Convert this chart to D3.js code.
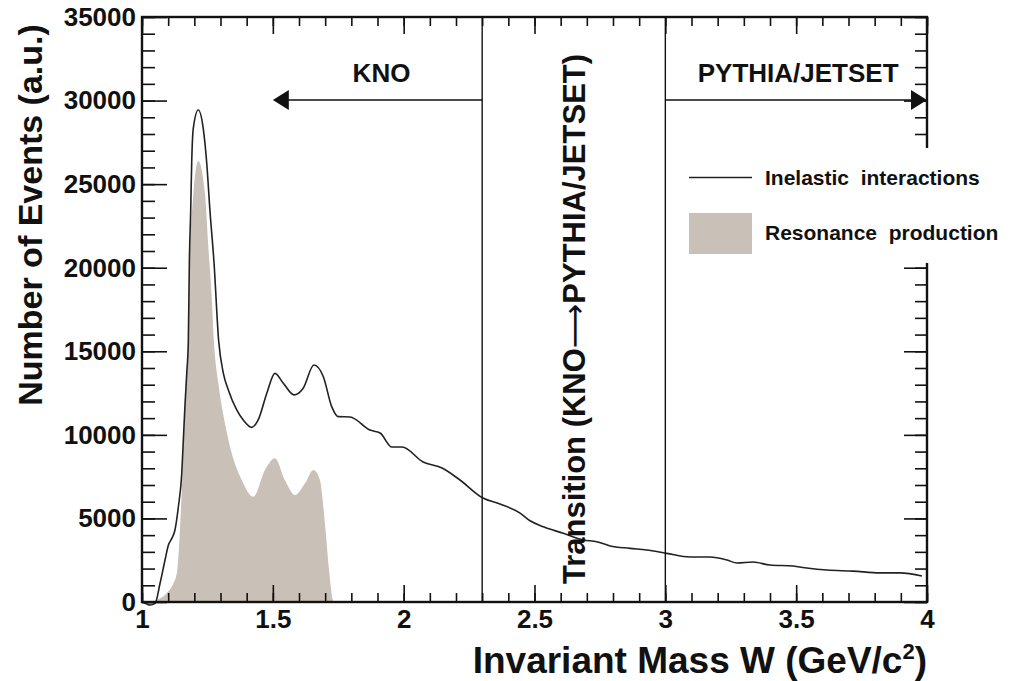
<html>
<head>
    <script src="https://d3js.org/d3.v7.min.js"></script>
    <style>
        body { margin: 0; background: #fff; }
        text { font-family: "Liberation Sans", Arial, sans-serif; fill: #111; }
    </style>
</head>
<body>
<svg id="chart" width="1017" height="681"></svg>
<script>

// ---- data ----
const xTicks = [1, 1.5, 2, 2.5, 3, 3.5, 4];
const xTickLabels = ["1", "1.5", "2", "2.5", "3", "3.5", "4"];
const yTicks = [0, 5000, 10000, 15000, 20000, 25000, 30000, 35000];
const yTickLabels = ["0", "5000", "10000", "15000", "20000", "25000", "30000", "35000"];

// inelastic interactions (black line)
const inelMass = [1.004, 1.031, 1.050, 1.069, 1.088, 1.101, 1.114, 1.126, 1.139, 1.152, 1.158, 1.164, 1.171,
    1.177, 1.181, 1.186, 1.190, 1.196, 1.215, 1.234, 1.247, 1.260, 1.275, 1.293, 1.311, 1.330, 1.362, 1.387,
    1.419, 1.444, 1.477, 1.508, 1.540, 1.581, 1.616, 1.657, 1.693, 1.725, 1.750, 1.795, 1.871, 1.910, 1.955,
    1.994, 2.074, 2.147, 2.215, 2.303, 2.368, 2.445, 2.483, 2.534, 2.610, 2.686, 2.738, 2.789, 2.865, 2.929,
    3.005, 3.094, 3.171, 3.236, 3.274, 3.335, 3.400, 3.488, 3.541, 3.618, 3.717, 3.820, 3.897, 3.981];
const inelEvents = [0, -180, -80, 1120, 2510, 3410, 3810, 4310, 5700, 7700, 9690, 11690, 13680,
    15570, 20360, 23350, 26340, 28340, 29440, 28340, 26340, 23350, 20360, 15620, 13680, 12680, 11490, 10890,
    10450, 10890, 12490, 13680, 13090, 12390, 12790, 14180, 13480, 11690, 11090, 11070, 10290, 10110, 9270,
    9270, 8380, 8020, 7300, 6220, 5860, 5320, 4860, 4500, 4110, 3710, 3610, 3350, 3210, 3110,
    2910, 2690, 2690, 2510, 2330, 2390, 2210, 2150, 2030, 1910, 1850, 1740, 1740, 1560];

// resonance production (filled)
const resMass = [1.038, 1.056, 1.094, 1.120, 1.133, 1.143, 1.152, 1.162, 1.171, 1.177, 1.183, 1.196, 1.215,
    1.241, 1.253, 1.266, 1.275, 1.292, 1.317, 1.343, 1.381, 1.425, 1.470, 1.508, 1.546, 1.585, 1.623, 1.655,
    1.680, 1.699, 1.716, 1.729, 1.734];
const resEvents = [0, 120, 520, 1120, 1720, 3710, 6700, 10690, 13680, 15570, 20360, 24350, 26390,
    24350, 21360, 18370, 15570, 13080, 10690, 8900, 7300, 6300, 7900, 8600, 7300, 6400, 7100, 7900,
    7300, 4710, 1720, 120, 0];

const boundaries = [2.3, 3.0];
const legendKeys = ["Inelastic  interactions", "Resonance  production"];
const resColor = "#c9c0b7";

let svg = d3.select("svg#chart");
const margin = { top: 17, right: 90, bottom: 79, left: 142 };
const width = +svg.attr("width");
const height = +svg.attr("height");

const x = d3.scaleLinear().domain([1, 4]).range([margin.left, width - margin.right]);
const y = d3.scaleLinear().domain([0, 35000]).range([height - margin.bottom, margin.top]);

const inel = inelMass.map((m, i) => ({ m: m, v: inelEvents[i] }));
const res = resMass.map((m, i) => ({ m: m, v: resEvents[i] }));

// resonance area
svg.append("path")
    .datum(res)
    .attr("fill", resColor)
    .attr("d", d3.area().curve(d3.curveMonotoneX)
        .x(d => x(d.m)).y0(y(0)).y1(d => y(d.v)));

// inelastic line
svg.append("path")
    .datum(inel)
    .attr("fill", "none")
    .attr("stroke", "#222")
    .attr("stroke-width", 1.6)
    .attr("d", d3.line().curve(d3.curveMonotoneX)
        .x(d => x(d.m)).y(d => y(d.v)));

// region boundaries
svg.selectAll("line.bound").data(boundaries).join("line")
    .attr("class", "bound")
    .attr("x1", d => x(d)).attr("x2", d => x(d))
    .attr("y1", y(0)).attr("y2", y(35000))
    .attr("stroke", "#111").attr("stroke-width", 1.4);

// arrows
const arrowY = 100;
function arrow(from, to) {
    const dir = Math.sign(x(to) - x(from));
    svg.append("line")
        .attr("x1", x(from)).attr("x2", x(to) - dir * 10)
        .attr("y1", arrowY).attr("y2", arrowY)
        .attr("stroke", "#111").attr("stroke-width", 1.4);
    const tip = x(to);
    svg.append("path")
        .attr("d", `M${tip},${arrowY} L${tip - dir * 16},${arrowY - 10} L${tip - dir * 16},${arrowY + 10} Z`)
        .attr("fill", "#111");
}
arrow(2.3, 1.5);
arrow(3.0, 4.0);

svg.append("text")
    .attr("x", (x(1.5) + x(2.3)) / 2 + 4).attr("y", 82)
    .attr("text-anchor", "middle")
    .style("font-size", "26px")
    .style("font-weight", "bold")
    .text("KNO");

svg.append("text")
    .attr("x", (x(3) + x(4)) / 2 + 2).attr("y", 82)
    .attr("text-anchor", "middle")
    .style("font-size", "26px")
    .style("font-weight", "bold")
    .text("PYTHIA/JETSET");

let tr = svg.append("text")
    .attr("transform", `translate(585, 319) rotate(-90)`)
    .attr("text-anchor", "middle")
    .style("font-size", "31px")
    .style("font-weight", "bold");
tr.append("tspan").text("Transition (KNO");
tr.append("tspan").style("font-family", "'DejaVu Sans'").style("font-weight", "normal").text("\u27F6");
tr.append("tspan").text("PYTHIA/JETSET)");

// ---- axes: ticks pointing into the frame on all four sides ----
const noLabel = () => "";
svg.append("g").attr("transform", `translate(0, ${y(0)})`)
    .call(d3.axisBottom(x).tickValues(x.ticks(30)).tickSize(-9).tickFormat(noLabel));
svg.append("g").attr("transform", `translate(0, ${y(0)})`)
    .call(d3.axisBottom(x).tickValues(xTicks).tickSize(-17).tickPadding(8)
        .tickFormat((d, i) => xTickLabels[i]));
svg.append("g").attr("transform", `translate(0, ${y(35000)})`)
    .call(d3.axisTop(x).tickValues(x.ticks(30)).tickSize(-9).tickFormat(noLabel));
svg.append("g").attr("transform", `translate(0, ${y(35000)})`)
    .call(d3.axisTop(x).tickValues(xTicks).tickSize(-17).tickFormat(noLabel));

svg.append("g").attr("transform", `translate(${x(1)}, 0)`)
    .call(d3.axisLeft(y).tickValues(y.ticks(35)).tickSize(-13).tickFormat(noLabel));
svg.append("g").attr("transform", `translate(${x(1)}, 0)`)
    .call(d3.axisLeft(y).tickValues(yTicks).tickSize(-25).tickPadding(6)
        .tickFormat((d, i) => yTickLabels[i]));
svg.append("g").attr("transform", `translate(${x(4)}, 0)`)
    .call(d3.axisRight(y).tickValues(y.ticks(35)).tickSize(-12).tickFormat(noLabel));
svg.append("g").attr("transform", `translate(${x(4)}, 0)`)
    .call(d3.axisRight(y).tickValues(yTicks).tickSize(-23).tickFormat(noLabel));

svg.selectAll(".domain").remove();
svg.selectAll(".tick line").attr("stroke", "#111").attr("stroke-width", 1.6);
svg.selectAll(".tick text").style("font-size", "26px").style("fill", "#111")
    .style("font-weight", "bold")
    .style("font-family", "'Liberation Sans', Arial, sans-serif");

// frame
svg.append("rect")
    .attr("x", x(1)).attr("y", y(35000))
    .attr("width", x(4) - x(1)).attr("height", y(0) - y(35000))
    .attr("fill", "none").attr("stroke", "#111").attr("stroke-width", 2.4);

// legend (white box hides part of the frame)
svg.append("rect")
    .attr("x", 676).attr("y", 148).attr("width", 336).attr("height", 115)
    .attr("fill", "#fff");
svg.append("line")
    .attr("x1", 689).attr("x2", 752).attr("y1", 177.5).attr("y2", 177.5)
    .attr("stroke", "#222").attr("stroke-width", 1.6);
svg.append("rect")
    .attr("x", 689).attr("y", 213).attr("width", 63).attr("height", 41)
    .attr("fill", resColor);
svg.selectAll("text.legend").data(legendKeys).join("text")
    .attr("class", "legend")
    .attr("x", 765)
    .attr("y", (d, i) => 185 + i * 55)
    .attr("xml:space", "preserve")
    .style("white-space", "pre")
    .style("font-size", "21px")
    .style("font-weight", "bold")
    .text(d => d);

// axis titles
svg.append("text")
    .attr("transform", "translate(42, 215) rotate(-90)")
    .attr("text-anchor", "middle")
    .style("font-size", "34px")
    .style("font-weight", "bold")
    .text("Number of Events (a.u.)");

let xt = svg.append("text")
    .attr("x", 927).attr("y", 673)
    .attr("text-anchor", "end")
    .style("font-size", "37px")
    .style("font-weight", "bold");
xt.append("tspan").text("Invariant Mass W (GeV/c");
xt.append("tspan").attr("dy", -14).style("font-size", "22px").text("2");
xt.append("tspan").attr("dy", 14).text(")");

</script>
</body>
</html>
